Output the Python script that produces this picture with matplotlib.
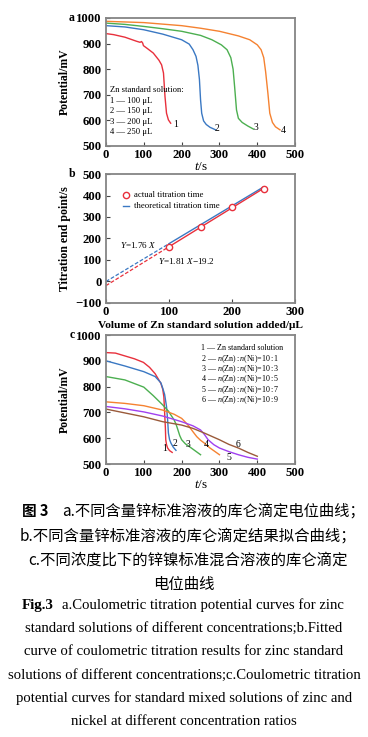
import matplotlib
matplotlib.use("Agg")
import matplotlib.pyplot as plt
import numpy as np

# ---------- data: panel a ----------
a1_t = [0, 20, 50, 81, 90, 94, 97, 99, 110, 125, 140, 147, 152, 156, 160, 165, 171]
a1_v = [939, 935, 925, 909, 905, 908, 902, 892, 880, 863, 835, 817, 785, 693, 628, 602, 589]
a2_t = [0, 50, 100, 150, 200, 220, 230, 238, 243, 247, 250, 253, 258, 265, 275, 290]
a2_v = [970, 965, 954, 937, 915, 898, 876, 850, 815, 760, 680, 628, 598, 584, 573, 563]
a3_t = [0, 50, 100, 150, 200, 250, 280, 305, 320, 330, 336, 340, 345, 350, 360, 375, 390]
a3_v = [980, 975, 967, 958, 948, 932, 915, 895, 876, 845, 800, 732, 641, 608, 592, 578, 566]
a4_t = [0, 100, 200, 250, 300, 350, 380, 400, 410, 417, 422, 428, 433, 440, 448, 460]
a4_v = [987, 982, 970, 960, 948, 930, 915, 895, 876, 845, 790, 706, 628, 592, 575, 563]
a_legend = ["1 — 100 μL", "2 — 150 μL", "3 — 200 μL", "4 — 250 μL"]

# ---------- data: panel b ----------
b_vol = [100, 150, 200, 250]
b_time = [160, 255, 345, 430]
b_fit_slope, b_fit_int = 1.81, -19.2
b_theo_slope = 1.76

# ---------- data: panel c ----------
c1_t = [0, 25, 50, 75, 99, 115, 130, 145, 150, 153, 155, 157, 158, 160, 163, 168, 175]
c1_v = [932, 930, 919, 908, 894, 875, 850, 813, 790, 760, 700, 640, 594, 575, 562, 552, 545]
c2_t = [0, 50, 100, 130, 145, 150, 155, 160, 163, 165, 168, 172, 178, 185]
c2_v = [900, 880, 858, 839, 815, 794, 770, 723, 670, 620, 595, 580, 565, 553]
c3_t = [0, 50, 100, 125, 150, 165, 180, 185, 190, 195, 200, 210, 220, 235, 250]
c3_v = [839, 826, 798, 765, 729, 705, 671, 655, 633, 610, 594, 578, 568, 552, 536]
c4_t = [0, 50, 100, 150, 180, 200, 210, 220, 230, 240, 250, 260, 275, 300]
c4_v = [741, 735, 726, 709, 693, 677, 662, 645, 625, 606, 592, 581, 562, 536]
c5_t = [0, 50, 100, 150, 200, 230, 250, 260, 270, 285, 300, 325, 350, 375, 400]
c5_v = [723, 714, 702, 686, 664, 648, 632, 615, 594, 575, 562, 548, 536, 526, 519]
c6_t = [0, 50, 100, 150, 200, 230, 260, 280, 300, 325, 350, 375, 400]
c6_v = [713, 698, 683, 664, 651, 638, 620, 607, 594, 576, 562, 545, 530]
c_legend = ["1 — Zn standard solution",
            "2 — $n$(Zn)$\\,$:$\\,n$(Ni)=10$\\,$:$\\,$1",
            "3 — $n$(Zn)$\\,$:$\\,n$(Ni)=10$\\,$:$\\,$3",
            "4 — $n$(Zn)$\\,$:$\\,n$(Ni)=10$\\,$:$\\,$5",
            "5 — $n$(Zn)$\\,$:$\\,n$(Ni)=10$\\,$:$\\,$7",
            "6 — $n$(Zn)$\\,$:$\\,n$(Ni)=10$\\,$:$\\,$9"]

caption_cn = ["a.不同含量锌标准溶液的库仑滴定电位曲线；",
              "b.不同含量锌标准溶液的库仑滴定结果拟合曲线；",
              "c.不同浓度比下的锌镍标准混合溶液的库仑滴定",
              "电位曲线"]
caption_en = ["a.Coulometric titration potential curves for zinc",
              "standard solutions of different concentrations;b.Fitted",
              "curve of coulometric titration results for zinc standard",
              "solutions of different concentrations;c.Coulometric titration",
              "potential curves for standard mixed solutions of zinc and",
              "nickel at different concentration ratios"]

plt.rcParams['font.family'] = ['Liberation Serif', 'DejaVu Serif']
plt.rcParams['mathtext.fontset'] = 'custom'
plt.rcParams['mathtext.rm'] = 'Liberation Serif'
plt.rcParams['mathtext.it'] = 'Liberation Serif:italic'
plt.rcParams['mathtext.bf'] = 'Liberation Serif:bold'

RED = '#e8303c'
BLUE = '#3a78c3'
GREEN = '#4caf50'
ORANGE = '#f58231'
PURPLE = '#a040f0'
BROWN = '#9a5a3a'
FRAME = '#858585'

fig = plt.figure(figsize=(3.68, 7.37), dpi=100)

def style(ax):
    for s in ax.spines.values():
        s.set_color(FRAME)
        s.set_linewidth(1.3)
    ax.tick_params(direction='in', length=3, width=0.8, color='#444444',
                   labelsize=9.2, top=False, right=False)
    ax.tick_params(axis='y', pad=3)
    ax.tick_params(axis='x', pad=2)
    for lab in ax.get_xticklabels() + ax.get_yticklabels():
        lab.set_fontweight('bold')

W = 0.514
axa = fig.add_axes([0.288, 0.8019, W, 0.1737])
axb = fig.add_axes([0.288, 0.5889, W, 0.175])
axc = fig.add_axes([0.288, 0.3704, W, 0.175])

# panel a
for t, v, c in [(a1_t, a1_v, RED), (a2_t, a2_v, BLUE), (a3_t, a3_v, GREEN), (a4_t, a4_v, ORANGE)]:
    axa.plot(t, v, color=c, lw=1.0)
axa.set_xlim(0, 500)
axa.set_ylim(500, 1000)
axa.set_xticks([0, 100, 200, 300, 400, 500])
axa.set_yticks([500, 600, 700, 800, 900, 1000])
style(axa)
axa.set_ylabel('Potential/mV', fontsize=8.5, fontweight='bold')
axa.yaxis.set_label_coords(-0.185, 0.5)
axa.set_xlabel('$t$/s', fontsize=9.5, labelpad=0)
for lab, x, y in [('1', 183, 585), ('2', 293, 569), ('3', 397, 572), ('4', 469, 559)]:
    axa.text(x, y, lab, fontsize=7, ha='center', va='center')
axa.text(10, 719, 'Zn standard solution:', fontsize=6.2, va='center')
for i, s in enumerate(a_legend):
    axa.text(10, 676 - i * 41, s, fontsize=6.2, va='center')
fig.text(72 / 368, 1 - 18 / 737, 'a', fontsize=8.5, fontweight='bold', ha='center', va='center')

# panel b
xs_d = np.array([0, 100])
xs_s = np.array([100, 250])
axb.plot(xs_d, b_theo_slope * xs_d, color=BLUE, lw=0.9, ls=(0, (3, 1.5)))
axb.plot(xs_s, b_theo_slope * xs_s, color=BLUE, lw=1.0)
axb.plot(xs_d, b_fit_slope * xs_d + b_fit_int, color=RED, lw=0.9, ls=(0, (3, 1.5)))
axb.plot(xs_s, b_fit_slope * xs_s + b_fit_int, color=RED, lw=1.0)
axb.plot(b_vol, b_time, 'o', mfc='white', mec=RED, mew=1.0, ms=4.5)
axb.plot([31], [402], 'o', mfc='white', mec=RED, mew=1.0, ms=4.5)
axb.plot([27, 37], [352, 352], color=BLUE, lw=1.0)
axb.text(44, 402, 'actual titration time', fontsize=6.3, va='center')
axb.text(44, 352, 'theoretical titration time', fontsize=6.3, va='center')
axb.text(22, 172, '$Y$=1.76 $X$', fontsize=6.6, va='center')
axb.text(82, 95, '$Y$=1.81 $X$−19.2', fontsize=6.6, va='center')
axb.set_xlim(0, 300)
axb.set_ylim(-100, 500)
axb.set_xticks([0, 100, 200, 300])
axb.set_yticks([-100, 0, 100, 200, 300, 400, 500])
style(axb)
axb.set_yticklabels(['−100', '0', '100', '200', '300', '400', '500'])
for lab in axb.get_yticklabels():
    lab.set_fontweight('bold')
axb.set_ylabel('Titration end point/s', fontsize=8.6, fontweight='bold')
axb.yaxis.set_label_coords(-0.185, 0.5)
axb.set_xlabel('Volume of Zn standard solution added/μL', fontsize=8.2, fontweight='bold', labelpad=2)
fig.text(72 / 368, 1 - 174 / 737, 'b', fontsize=8.5, fontweight='bold', ha='center', va='center')

# panel c
for t, v, c in [(c1_t, c1_v, RED), (c2_t, c2_v, BLUE), (c3_t, c3_v, GREEN),
                (c4_t, c4_v, ORANGE), (c5_t, c5_v, PURPLE), (c6_t, c6_v, BROWN)]:
    axc.plot(t, v, color=c, lw=1.0)
axc.set_xlim(0, 500)
axc.set_ylim(500, 1000)
axc.set_xticks([0, 100, 200, 300, 400, 500])
axc.set_yticks([500, 600, 700, 800, 900, 1000])
style(axc)
axc.set_ylabel('Potential/mV', fontsize=8.5, fontweight='bold')
axc.yaxis.set_label_coords(-0.185, 0.5)
axc.set_xlabel('$t$/s', fontsize=9.5, labelpad=0)
for lab, x, y in [('1', 154, 559), ('2', 183, 581), ('3', 216, 577), ('4', 265, 577),
                  ('5', 326, 526), ('6', 348, 577)]:
    axc.text(x, y, lab, fontsize=7, ha='center', va='center')
for i, s in enumerate(c_legend):
    axc.text(252, 948 - i * 40, s, fontsize=5.8, va='center')
fig.text(72 / 368, 1 - 335 / 737, 'c', fontsize=8.5, fontweight='bold', ha='center', va='center')

# caption
cjk = ['Noto Sans CJK SC', 'Liberation Serif', 'DejaVu Sans']
fig.text(22 / 368, 1 - 511 / 737, '图 3', fontsize=10.5, fontweight='bold', family=cjk, va='center')
fig.text(62 / 368, 1 - 511 / 737, caption_cn[0], fontsize=11.0, family=cjk, va='center')
for i, s in enumerate(caption_cn[1:3]):
    fig.text(0.51, 1 - (536 + 24 * i) / 737, s, fontsize=11.1, family=cjk, ha='center', va='center')
fig.text(0.5, 1 - 584 / 737, caption_cn[3], fontsize=11.1, family=cjk, ha='center', va='center')

fig.text(22 / 368, 1 - 605 / 737, 'Fig.3', fontsize=10.8, fontweight='bold', va='center')
fig.text(62 / 368, 1 - 605 / 737, caption_en[0], fontsize=10.6, va='center')
for i, s in enumerate(caption_en[1:]):
    fig.text(0.5, 1 - (628.3 + 23.4 * i) / 737, s, fontsize=10.6, ha='center', va='center')

fig.savefig('out.png', dpi=100)
